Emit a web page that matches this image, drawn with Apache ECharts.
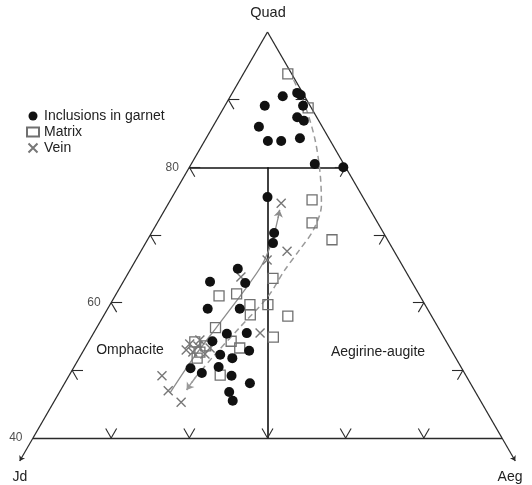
<!DOCTYPE html>
<html><head><meta charset="utf-8">
<script src="https://cdn.jsdelivr.net/npm/echarts@6/dist/echarts.min.js"></script>
<style>html,body{margin:0;padding:0;background:#fff}#c{width:532px;height:485px}</style>
</head><body><div id="c"></div>
<script>
// All compositions are [Quad, Jd, Aeg] in %
const inclusionsInGarnet = [
 [90.5,2.8,6.7],[91.0,0.7,8.3],[90.7,0.4,8.9],[89.1,5.8,5.1],[89.1,0.9,10.0],[87.4,2.5,10.1],
 [86.9,1.9,11.2],[86.0,8.1,5.9],[83.9,8.0,8.1],[83.9,6.3,9.8],[84.3,3.7,12.0],[80.5,3.7,15.8],
 [80.0,0.3,19.7],[75.6,12.2,12.2],[70.3,14.0,15.7],[68.8,14.9,16.3],[65.0,21.3,13.7],[62.9,21.4,15.7],
 [63.1,25.8,11.1],[59.1,28.1,12.8],[59.1,24.0,16.9],[55.4,27.5,17.1],[55.5,24.9,19.6],[54.3,29.9,15.8],
 [52.9,25.9,21.2],[52.3,29.9,17.8],[51.8,28.6,19.6],[50.3,34.7,15.0],[49.6,33.6,16.8],[50.5,31.0,18.5],
 [49.2,30.0,20.8],[48.1,28.2,23.7],[46.8,31.5,21.7],[45.5,31.7,22.8]
];
const matrix = [
 [93.8,0.5,5.7],[88.8,0.4,10.8],[75.2,6.7,18.1],[71.8,8.4,19.8],[69.3,7.1,23.6],[63.6,17.5,18.9],
 [61.0,25.7,13.3],[61.3,23.3,15.4],[59.7,22.4,17.9],[59.7,20.1,20.2],[58.2,23.1,18.7],[58.0,18.4,23.6],
 [56.3,28.5,15.2],[54.9,21.8,23.3],[54.3,27.5,18.2],[53.3,26.9,19.8],[54.2,32.2,13.6],[52.7,32.3,15.0],
 [49.3,31.4,19.3],[53.6,31.1,15.3],[51.8,33.1,15.1]
];
const vein = [
 [74.7,10.9,14.4],[67.6,13.7,18.7],[66.3,16.9,16.8],[63.8,21.5,14.7],[55.5,23.2,21.3],[49.2,38.9,11.9],
 [47.0,39.2,13.8],[45.3,38.4,16.3],[53.9,33.0,13.1],[54.5,31.4,14.1],[52.4,31.8,15.8],[52.7,33.2,14.1],
 [53.3,30.7,16.0],[53.0,33.9,13.1],[53.6,32.1,14.3]
];
const veinTrend = [[46.7,39.1,14.2],[51.8,33.6,14.6],[56.4,28.3,15.3],[61.6,22.3,16.1],[65.6,17.9,16.5],[69.3,14.7,16.0],[72.5,12.4,15.1],[73.7,11.6,14.7]];
const matrixTrend = [[92.9,0.2,6.9],[88.8,0.7,10.5],[84.0,1.9,14.1],[78.9,3.8,17.3],[74.4,5.9,19.7],[70.7,8.8,20.5],[67.8,12.0,20.2],[64.8,15.4,19.8],[60.8,19.6,19.6],[56.4,25.3,18.3],[52.3,30.6,17.1],[48.9,34.8,16.3],[47.1,36.8,16.1]];
const quadTickLabels = [40, 60, 80];
const sideTicks = [50, 60, 70, 80, 90];   // Quad ticks on both sides
const baseTicks = [10, 20, 30, 40, 50];   // Jd ticks on the base (Quad = 40)

const S = Math.sqrt(3) / 2;
function xy(p) { const q = p[0], j = p[1], a = p[2]; return [(a - j) / 2, (q - 40) * S]; }
function seg(p1, p2) { return { coords: [xy(p1), xy(p2)] }; }

const frame = [seg([40,60,0],[100,0,0]), seg([100,0,0],[40,0,60]), seg([40,0,60],[40,60,0])];
const inner = [seg([80,20,0],[80,0,20]), seg([80,10,10],[40,30,30])];
const d = 1.4;
const ticks = [];
sideTicks.forEach(q => {
  ticks.push(seg([q,100-q,0],[q,100-q-d,d]), seg([q,100-q,0],[q-d,100-q,d]));
  ticks.push(seg([q,0,100-q],[q,d,100-q-d]), seg([q,0,100-q],[q-d,d,100-q]));
});
baseTicks.forEach(j => {
  ticks.push(seg([40,j,60-j],[40+d,j,60-j-d]), seg([40,j,60-j],[40+d,j-d,60-j]));
});
const vertexArrows = [seg([40,60,0],[36.6,63.4,0]), seg([40,0,60],[36.6,0,63.4])];
const n1 = veinTrend.length, n2 = matrixTrend.length;

const FONT = 'Liberation Sans, Arial, Helvetica, sans-serif';
const FS = 14;
function txt(t, x, y, fs) {
  return { type: 'text', x: x, y: y, style: { text: t, fontSize: fs || FS, fill: '#222', fontFamily: FONT, align: 'center', verticalAlign: 'middle' } };
}
const chart = echarts.init(document.getElementById('c'), null, { renderer: 'canvas' });
chart.setOption({
  animation: false,
  backgroundColor: '#fff',
  grid: { left: 33, right: 30, top: 32, bottom: 47, containLabel: false },
  xAxis: { type: 'value', min: -30, max: 30, show: false },
  yAxis: { type: 'value', min: 0, max: 60 * S, show: false },
  legend: {
    orient: 'vertical', left: 21, top: 104, itemWidth: 12, itemHeight: 9, itemGap: 2,
    data: ['Inclusions in garnet', 'Matrix', 'Vein'],
    textStyle: { fontSize: FS, color: '#222', fontFamily: FONT }
  },
  graphic: [
    txt('Quad', 268, 13, 14.5),
    txt('Jd', 20, 477),
    txt('Aeg', 510, 477),
    txt('Omphacite', 130, 350),
    txt('Aegirine-augite', 378, 352)
  ],
  series: [
    { type: 'lines', coordinateSystem: 'cartesian2d', silent: true, clip: false, z: 1,
      data: frame, lineStyle: { color: '#2a2a2a', width: 1.3, opacity: 1 } },
    { type: 'lines', coordinateSystem: 'cartesian2d', silent: true, clip: false, z: 1,
      data: inner, lineStyle: { color: '#111', width: 1.6, opacity: 1 } },
    { type: 'lines', coordinateSystem: 'cartesian2d', silent: true, clip: false, z: 1,
      data: ticks, lineStyle: { color: '#2a2a2a', width: 1.1, opacity: 1 } },
    { type: 'lines', coordinateSystem: 'cartesian2d', silent: true, clip: false, z: 1,
      data: vertexArrows, symbol: ['none', 'arrow'], symbolSize: 5,
      lineStyle: { color: '#2a2a2a', width: 1.2, opacity: 1 } },
    { type: 'line', silent: true, clip: false, z: 2, showSymbol: false, smooth: 0.3,
      data: veinTrend.map(xy), lineStyle: { color: '#8c8c8c', width: 1.3 } },
    { type: 'lines', coordinateSystem: 'cartesian2d', silent: true, clip: false, z: 2,
      data: [seg(veinTrend[n1-2], veinTrend[n1-1])], symbol: ['none', 'arrow'], symbolSize: 7,
      lineStyle: { color: '#8c8c8c', width: 1.3, opacity: 1 } },
    { type: 'line', silent: true, clip: false, z: 2, showSymbol: false, smooth: 0.3,
      data: matrixTrend.map(xy), lineStyle: { color: '#9a9a9a', width: 1.5, type: [6, 4] } },
    { type: 'lines', coordinateSystem: 'cartesian2d', silent: true, clip: false, z: 2,
      data: [seg(matrixTrend[n2-2], matrixTrend[n2-1])], symbol: ['none', 'arrow'], symbolSize: 7,
      lineStyle: { color: '#9a9a9a', width: 1.5, opacity: 1, type: [6, 4] } },
    { name: 'Matrix', type: 'scatter', z: 3, symbol: 'rect', symbolSize: 10, clip: false,
      data: matrix.map(xy),
      itemStyle: { color: 'rgba(255,255,255,0)', borderColor: '#707070', borderWidth: 1.3, opacity: 1 } },
    { name: 'Vein', type: 'scatter', z: 3, symbol: 'path://M0,0L10,10M0,10L10,0', symbolSize: 9, clip: false,
      data: vein.map(xy),
      itemStyle: { color: 'rgba(255,255,255,0)', borderColor: '#777', borderWidth: 1.4, opacity: 1 } },
    { name: 'Inclusions in garnet', type: 'scatter', z: 4, symbol: 'circle', symbolSize: 10, clip: false,
      data: inclusionsInGarnet.map(xy), itemStyle: { color: '#111', opacity: 1 } },
    { type: 'scatter', silent: true, z: 5, symbolSize: 1, clip: false,
      data: quadTickLabels.map(q => ({ value: xy([q, 100 - q, 0]), name: String(q) })),
      itemStyle: { color: 'rgba(0,0,0,0)' },
      label: { show: true, position: 'left', distance: 10, formatter: '{b}', fontSize: 12, color: '#222', fontFamily: FONT } }
  ]
});
</script>
</body></html>
